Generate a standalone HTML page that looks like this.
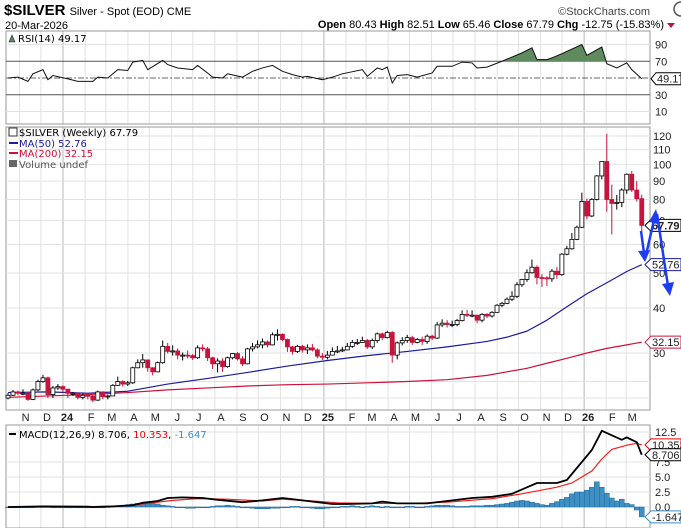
<!DOCTYPE html>
<html><head><meta charset="utf-8"><style>
html,body{margin:0;padding:0;background:#fff;}
svg{display:block;font-family:"Liberation Sans",sans-serif;}
.ax{font-size:11px;fill:#222;}
.lg{font-family:"DejaVu Sans",sans-serif;font-size:10px;}
</style></head><body>
<svg id="chart" width="681" height="528" viewBox="0 0 681 528" xmlns="http://www.w3.org/2000/svg">
<g id="grid"></g>
<g>
<text x="4" y="15" font-size="15" font-weight="bold" fill="#000">$SILVER <tspan font-size="11" font-weight="normal">Silver - Spot (EOD) CME</tspan></text>
<text x="5" y="29" font-size="11" fill="#000">20-Mar-2026</text>
<text x="650" y="15" font-size="11" fill="#444" text-anchor="end">©StockCharts.com</text>
<circle cx="681" cy="9" r="7" fill="none" stroke="#555" stroke-width="1.5"/>
<text x="664" y="28" font-size="11" fill="#000" text-anchor="end"><tspan font-weight="bold">Open</tspan> 80.43 <tspan font-weight="bold">High</tspan> 82.51 <tspan font-weight="bold">Low</tspan> 65.46 <tspan font-weight="bold">Close</tspan> 67.79 <tspan font-weight="bold">Chg</tspan> -12.75 (-15.83%)</text>
<path d="M667 23 L675 23 L671 28 Z" fill="#c0143c"/>
</g>
<g id="rsi"></g>
<g id="price"></g>
<g id="macd"></g>
<g id="xaxis"></g>
<g stroke="#1e3cf0" stroke-width="2.5" fill="#1e3cf0">
<line x1="641" y1="231" x2="644" y2="253"/><path d="M638 251 L645 262 L650 250 Z" stroke="none"/>
<line x1="646" y1="255" x2="654" y2="220"/><path d="M649 222 L656 209 L660 224 Z" stroke="none"/>
<line x1="657" y1="214" x2="668" y2="286"/><path d="M662 284 L670 296 L674 282 Z" stroke="none"/>
</g>
</svg>
<script>
const NS="http://www.w3.org/2000/svg";
// ---- data ----
const closes=[22.9,23.4,23.2,23.2,22.3,23.7,25.0,25.6,23.0,24.0,24.2,23.8,23.2,23.2,22.6,22.9,22.8,22.2,23.4,22.7,22.8,24.4,25.0,24.6,24.8,27.3,28.2,28.7,27.3,26.6,28.2,31.3,30.3,30.4,29.6,29.6,29.5,29.1,31.0,30.8,29.1,28.0,28.5,27.5,29.1,29.9,28.9,28.0,30.8,31.2,31.6,32.2,31.6,33.7,33.8,32.7,31.2,30.3,31.3,30.6,31.0,30.6,29.4,29.2,29.6,30.3,30.4,30.6,31.3,32.1,32.1,32.5,31.2,32.5,33.9,33.1,34.2,29.6,32.0,32.5,33.1,32.1,32.7,32.3,33.4,33.0,35.9,36.3,36.0,36.0,36.9,38.4,38.2,38.2,37.0,38.4,38.0,38.9,40.7,41.2,42.3,43.1,46.4,48.0,50.1,51.9,48.6,48.5,48.2,50.6,49.5,56.4,58.4,62.0,67.0,79.0,72.0,80.0,93.0,102.0,80.0,78.0,78.5,85.0,94.0,85.0,80.43,67.79];
const highs=[23.2,23.7,23.6,23.8,23.4,23.9,25.3,26.1,25.8,24.3,24.6,24.4,23.9,23.4,23.3,23.2,23.2,23.0,23.6,23.5,23.0,24.6,25.8,25.2,25.1,27.5,28.8,29.8,28.8,27.4,28.4,32.5,32.0,31.5,30.9,30.1,30.5,29.8,31.5,31.7,31.2,29.3,29.0,29.0,29.3,30.0,30.2,29.4,31.0,32.0,32.5,32.9,32.5,34.2,34.9,34.0,32.9,31.4,31.6,31.6,31.7,31.8,30.9,30.0,30.4,31.1,31.4,31.2,32.0,32.6,32.8,33.3,32.8,32.9,34.2,34.2,34.6,34.5,32.3,33.2,33.7,33.5,33.0,33.3,33.8,33.7,36.6,37.2,37.0,36.9,37.3,39.4,39.5,39.4,38.3,38.7,38.7,39.2,41.0,41.6,42.8,44.5,47.2,48.2,51.2,54.5,52.5,49.6,49.0,51.3,52.0,56.8,59.5,64.6,67.7,83.6,80.5,80.7,93.5,102.0,121.6,88.0,82.3,86.0,94.5,96.0,90.0,82.51];
const lows=[22.3,22.8,22.9,22.9,22.1,22.2,23.5,24.8,22.5,22.5,23.7,23.3,22.5,22.8,22.3,22.3,22.3,21.9,22.1,22.3,22.3,22.8,24.3,24.2,24.3,24.6,27.2,27.3,26.6,26.0,26.5,28.0,29.9,29.5,28.8,28.6,29.0,28.7,28.9,30.3,28.5,27.1,26.5,26.6,27.3,28.8,28.6,27.6,27.9,30.3,30.9,30.9,31.1,31.5,32.5,32.3,30.2,29.7,30.0,30.1,29.8,30.3,29.0,28.7,28.8,29.6,30.0,30.2,30.5,31.0,31.6,32.0,30.8,30.8,32.0,32.6,32.9,28.2,28.8,31.5,32.0,31.6,31.9,31.6,31.8,32.6,32.8,35.4,35.3,35.4,35.6,36.7,37.7,37.7,36.3,36.5,37.5,37.6,38.8,40.2,41.0,41.8,42.6,45.8,47.3,49.8,46.5,45.8,46.0,47.3,48.2,49.1,56.0,58.0,61.7,66.6,70.5,71.5,79.5,91.0,74.0,64.0,75.0,76.2,83.0,84.0,79.0,65.46];
const firstOpen=22.5;
const maWeeks=[0,8,16,24,32,40,48,56,64,72,80,88,96,100,104,108,112,116,120,124,127];
const ma50=[23.3,23.4,23.2,23.5,24.6,25.5,26.5,27.6,28.6,29.5,30.3,31.2,32.3,33.2,34.5,37.0,40.3,43.8,47.0,50.5,52.76];
const ma200=[22.6,22.8,23.0,23.3,23.7,24.0,24.3,24.5,24.6,24.8,25.0,25.3,26.0,26.6,27.2,28.1,29.0,30.0,30.9,31.6,32.15];
const priceTicks=[30,40,50,60,70,80,90,100,110,120];
const rsiWeeks=[0,2,4,5,7,8,9,12,14,17,18,20,22,24,25,27,28,31,32,34,37,38,40,41,43,44,47,49,51,53,55,57,59,60,63,65,67,71,72,74,75,76,77,78,80,82,85,86,89,91,93,94,96,99,103,105,106,108,109,111,115,116,119,120,122,124,125,127];
const rsiVals=[50,51,46,55,60,48,53,49,46,46,51,50,60,59,69,71,60,71,66,62,60,65,56,51,50,55,51,58,62,65,58,54,51,52,48,51,55,60,52,62,60,63,44,53,54,51,56,64,64,69,68,62,63,70,80,86,72,72,74,79,90,77,87,67,62,68,60,49.17];
const rsiTicks=[10,30,50,70,90];
const macdWeeks=[0,7,16,17,21,25,27,30,32,35,39,42,47,51,55,59,65,68,73,75,78,84,88,93,97,101,106,110,112,113,115,117,119,123,124,126,127];
const macdVals=[0,0.1,0.05,0,0.1,0.3,0.7,1.0,1.5,1.6,1.5,1.2,0.8,1.1,1.5,1.1,0.5,0.5,0.6,0.9,0.6,0.6,1.0,1.5,1.7,2.2,4.0,4.0,4.5,5.5,7.5,9.5,12.7,11.2,11.6,10.8,8.706];
const sigWeeks=[0,16,24,33,38,44,51,55,61,66,73,81,88,97,103,110,113,117,119,121,124,126,127];
const sigVals=[0,0.05,0.2,1.1,1.4,1.3,1.0,1.3,1.0,0.7,0.6,0.6,0.8,1.4,2.2,3.3,4.0,6.0,8.0,9.6,10.3,10.6,10.353];
const hist=[0,0,0,0,0,0,0.05,0.05,0.05,0,0,0,0,0,0,0,0,0,0,0,0.05,0.1,0.2,0.3,0.4,0.5,0.6,0.6,0.7,0.6,0.5,0.3,0.2,0.1,0,-0.1,-0.2,-0.2,-0.1,-0.1,0,0.1,0.2,0.2,0.3,0.2,0.1,0,-0.1,-0.2,-0.3,-0.3,-0.3,-0.2,-0.2,-0.1,0,0.1,0.1,0,-0.1,-0.2,-0.3,-0.3,-0.2,-0.1,0,0.1,0.1,0.2,0.1,0,0.1,0.2,0.1,0,0.1,0,-0.1,0,0.1,0.1,0,0,0.1,0.2,0.3,0.3,0.3,0.2,0.1,0.1,0.1,0.2,0.2,0.2,0.3,0.3,0.4,0.5,0.6,0.8,1.0,1.1,1.0,0.8,0.6,0.4,0.3,0.6,0.9,1.3,1.6,2.2,2.5,2.5,2.8,3.3,4.2,3.3,2.3,1.5,1.0,1.3,0.6,0.4,-0.5,-1.647];
const macdTicks=[0,2.5,5,7.5,12.5];
const monthLabels=["N","D","24","F","M","A","M","J","J","A","S","O","N","D","25","F","M","A","M","J","J","A","S","O","N","D","26","F","M"];
// ---- scales ----
const L=6,R=650;
const xw=i=>8+i*4.99;
const yP=p=>353-156.5*Math.log(p/30);
const yR=v=>78-(v-50)*0.8375;
const yM=v=>507-v*6;
function el(tag,attrs,parent){const e=document.createElementNS(NS,tag);for(const k in attrs)e.setAttribute(k,attrs[k]);parent.appendChild(e);return e;}
const grid=document.getElementById('grid'),rsi=document.getElementById('rsi'),price=document.getElementById('price'),macd=document.getElementById('macd'),xa=document.getElementById('xaxis');
const start=new Date(2023,9,13).getTime();
const monthX=[];
for(let k=0;k<monthLabels.length;k++){const d=new Date(2023,10+k,1).getTime();const idx=(d-start)/(7*864e5);monthX.push(xw(idx)-2);}
const panels=[[31,124],[127,410],[425,528]];
monthX.forEach((x,k)=>{const yr=/\d/.test(monthLabels[k]);panels.forEach(p=>{const g=el('line',{x1:x,x2:x,y1:p[0],y2:p[1],stroke:yr?'#b8b8b8':'#e2e2e2','stroke-width':1},grid);

});
const t=el('text',{x:x+(yr?4:6),y:421,'text-anchor':'middle',class:'ax','font-weight':yr?'bold':'normal'},xa);t.textContent=monthLabels[k];

});
panels.forEach(p=>{const b=el('rect',{x:L,y:p[0],width:R-L,height:p[1]-p[0],fill:'none',stroke:'#999'},grid);

});
// ---- RSI ----
rsiTicks.forEach(v=>{const y=yR(v);const main=(v==30||v==70);const l=el('line',{x1:L,x2:R,y1:y,y2:y,stroke:main?'#555':(v==50?'#666':'#e2e2e2'),'stroke-dasharray':v==50?'6,2,2,2':'none'},rsi);


if(v!=50){const t=el('text',{x:655,y:y+4,class:'ax'},rsi);t.textContent=v;

}});
const rpts=rsiWeeks.map((w,i)=>[xw(w),yR(rsiVals[i])]);
let fd='';
for(let i=0;i<rpts.length-1;i++){const a=rpts[i],b=rpts[i+1],va=rsiVals[i],vb=rsiVals[i+1];if(va<=70&&vb<=70)continue;
const y70=yR(70);let xa1=a[0],xb1=b[0];if(va<70)xa1=a[0]+(b[0]-a[0])*(70-va)/(vb-va);if(vb<70)xb1=a[0]+(b[0]-a[0])*(70-va)/(vb-va);
const ya=va<70?y70:a[1],yb=vb<70?y70:b[1];fd+=`M${xa1},${y70}L${xa1},${ya}L${xb1},${yb}L${xb1},${y70}Z`;}
const rf=el('path',{d:fd,fill:'#5e8a5e',stroke:'#5e8a5e','stroke-width':0.5},rsi);


const rl=el('polyline',{points:rpts.map(p=>p.join(',')).join(' '),fill:'none',stroke:'#111','stroke-width':1},rsi);


const rt=el('text',{x:18,y:42,class:'lg',fill:'#000'},rsi);rt.textContent='RSI(14) 49.17';


el('path',{d:'M9 42 L12 35 L15 42 Z',fill:'#5e8a5e',stroke:'#222','stroke-width':0.6},rsi);
const rtag=el('g',{},rsi);
el('path',{d:`M651 ${yR(49.17)} L656 ${yR(49.17)-6} L681 ${yR(49.17)-6} L681 ${yR(49.17)+6} L656 ${yR(49.17)+6} Z`,fill:'#fff',stroke:'#000'},rtag);
const rtt=el('text',{x:657,y:yR(49.17)+4,class:'ax'},rtag);rtt.textContent='49.17';
// ---- price ----
priceTicks.forEach(v=>{const y=yP(v);const l=el('line',{x1:L,x2:R,y1:y,y2:y,stroke:'#e2e2e2'},price);


const t=el('text',{x:653,y:y+4,class:'ax'},price);t.textContent=v;

});
[25,22.5].forEach(v=>{const y=yP(v);el('line',{x1:L,x2:R,y1:y,y2:y,stroke:'#e2e2e2'},price);});
function maLine(vals,color,name){const l=el('polyline',{points:maWeeks.map((w,i)=>xw(w)+','+yP(vals[i])).join(' '),fill:'none',stroke:color,'stroke-width':1.2,'stroke-linejoin':'round'},price);

}
maLine(ma200,'#d0103a','ma200-line');maLine(ma50,'#1c1ca0','ma50-line');
closes.forEach((c,i)=>{const o=i?closes[i-1]:firstOpen;const x=xw(i);const up=c>=o;
const g=el('g',{},price);


el('line',{x1:x,x2:x,y1:yP(highs[i]),y2:yP(lows[i]),stroke:up?'#000':'#c8143c','stroke-width':1},g);
const top=yP(Math.max(o,c)),bot=yP(Math.min(o,c));
el('rect',{x:x-2,y:top,width:4,height:Math.max(1,bot-top),fill:up?'#fff':'#c8143c',stroke:up?'#000':'#c8143c','stroke-width':0.8},g);});
const lg=el('g',{class:'lg'},price);
[['$SILVER (Weekly) 67.79','#000',136],['MA(50) 52.76','#1c1ca0',147],['MA(200) 32.15','#d0103a',157],['Volume undef','#555',168]].forEach((a,k)=>{const t=el('text',{x:19,y:a[2],fill:a[1]},lg);t.textContent=a[0];
if(k==1||k==2)el('line',{x1:9,x2:18,y1:a[2]-4,y2:a[2]-4,stroke:a[1],'stroke-width':2},lg);});
el('rect',{x:9,y:160,width:8,height:7,fill:'#666'},lg);el('rect',{x:9,y:128,width:8,height:8,fill:'none',stroke:'#333'},lg);
function tag(v,color,bold,name){const y=yP(v);const g=el('g',{},price);
el('path',{d:`M645 ${y} L651 ${y-6} L681 ${y-6} L681 ${y+6} L651 ${y+6} Z`,fill:'#fff',stroke:color},g);
const t=el('text',{x:652,y:y+4,class:'ax',fill:'#000','font-weight':bold?'bold':'normal'},g);t.textContent=v.toFixed(2);}
tag(67.79,'#000',true,'close-price-tag');tag(52.76,'#1c1ca0',false,'ma50-tag');tag(32.15,'#d0103a',false,'ma200-tag');
// ---- MACD ----
macdTicks.forEach(v=>{const y=yM(v);const l=el('line',{x1:L,x2:R,y1:y,y2:y,stroke:'#e2e2e2'},macd);


const t=el('text',{x:655,y:y+4,class:'ax'},macd);t.textContent=v.toFixed(1);

});
hist.forEach((h,i)=>{const x=xw(i);const y0=yM(0),y1=yM(h);const b=el('rect',{x:x-2.5,y:Math.min(y0,y1),width:5,height:Math.max(0.8,Math.abs(y1-y0)),fill:'#3d8fc4',stroke:'#1f6a9a','stroke-width':0.5},macd);

});
const sl=el('polyline',{points:sigWeeks.map((w,i)=>xw(w)+','+yM(sigVals[i])).join(' '),fill:'none',stroke:'#f02020','stroke-width':1.2},macd);


const ml=el('polyline',{points:macdWeeks.map((w,i)=>xw(w)+','+yM(macdVals[i])).join(' '),fill:'none',stroke:'#000','stroke-width':1.8},macd);


const mt=el('text',{x:19,y:438,class:'lg'},macd);mt.innerHTML='<tspan fill="#000">MACD(12,26,9) 8.706, </tspan><tspan fill="#e00">10.353</tspan><tspan fill="#000">, </tspan><tspan fill="#3d8fc4">-1.647</tspan>';


el('line',{x1:9,x2:16,y1:434,y2:434,stroke:'#000','stroke-width':2},macd);
function mtag(v,color,name){const y=yM(v);const g=el('g',{},macd);
el('path',{d:`M645 ${y} L651 ${y-6} L681 ${y-6} L681 ${y+6} L651 ${y+6} Z`,fill:'#fff',stroke:color},g);
const t=el('text',{x:652,y:y+4,class:'ax'},g);t.textContent=v.toFixed(3);}
mtag(10.353,'#e00','signal-tag');mtag(8.706,'#000','macd-tag');mtag(-1.647,'#3d8fc4','histogram-tag');
</script>
</body></html>
